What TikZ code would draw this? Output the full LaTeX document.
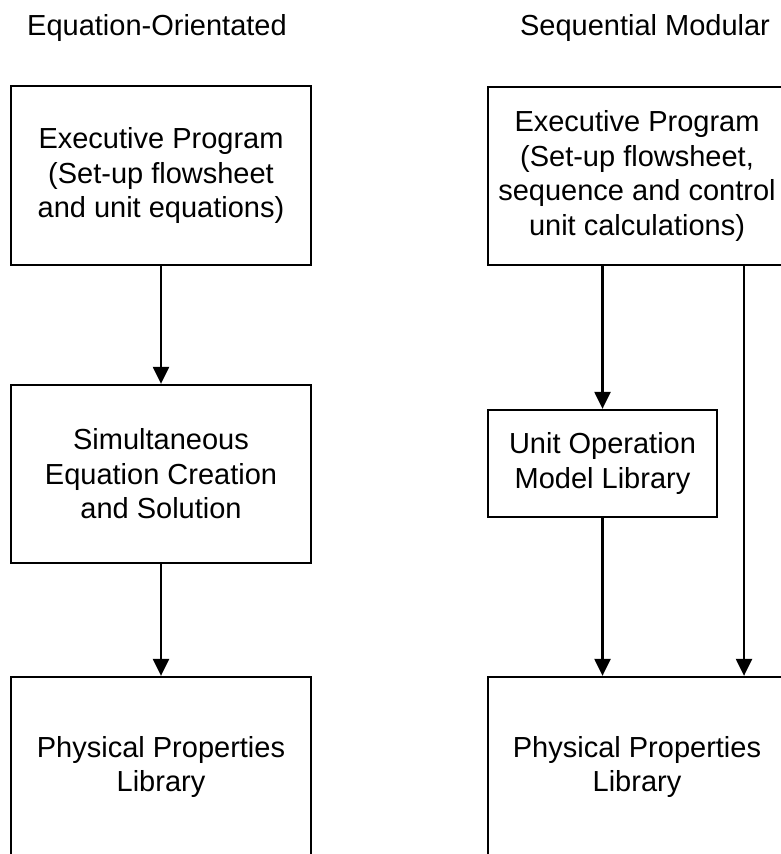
\documentclass[tikz,border=0pt]{standalone}
\usepackage{fontspec}
\setmainfont{Liberation Sans}
\usetikzlibrary{arrows.meta}

\begin{document}
\begin{tikzpicture}[x=1pt,y=-1pt,
        box/.style={draw=black, line width=2.3pt, align=center, inner sep=0pt,
            font=\fontsize{29}{34.5}\selectfont},
        flow/.style={line width=2.3pt, -{Triangle[width=16pt,length=17pt]}},
        heading/.style={anchor=base, font=\fontsize{29}{34.5}\selectfont}]
        % Fix the page size and cut off what runs past it
        \useasboundingbox (0,0) rectangle (781,854);
        \clip (0,0) rectangle (781,854);

        % Define column centres
        \def\lx{161} % left column
        \def\rx{637} % right column

        % Titles
        \node[heading] (eotitle) at (157,35) {Equation-Orientated};
        \node[heading] (smtitle) at (645,35) {Sequential Modular};

        % Equation-orientated column
        \node[box, minimum width=300pt, minimum height=179pt] (eoexec) at (\lx,175.5)
            {Executive Program\\(Set-up flowsheet\\and unit equations)};
        \node[box, minimum width=300pt, minimum height=178pt] (eosolve) at (\lx,474)
            {Simultaneous\\Equation Creation\\and Solution};
        \node[box, minimum width=300pt, minimum height=180pt] (eophys) at (\lx,767)
            {Physical Properties\\Library};

        % Sequential modular column
        \node[box, minimum width=298pt, minimum height=178pt] (smexec) at (\rx,176)
            {Executive Program\\(Set-up flowsheet,\\sequence and control\\unit calculations)};
        \node[box, minimum width=229pt, minimum height=107pt] (smunit) at (602.5,463.5)
            {Unit Operation\\Model Library};
        \node[box, minimum width=298pt, minimum height=180pt] (smphys) at (\rx,767)
            {Physical Properties\\Library};
        \coordinate (bypass) at (744,0); % x of the direct line

        % Connectors
        \draw[flow] (eoexec) -- (eosolve);
        \draw[flow] (eosolve) -- (eophys);
        \draw[flow] (smexec.south -| smunit.north) -- (smunit.north);
        \draw[flow] (smunit.south) -- (smunit.south |- smphys.north);
        \draw[flow] (smexec.south -| bypass) -- (smphys.north -| bypass);
    \end{tikzpicture}
\end{document}
